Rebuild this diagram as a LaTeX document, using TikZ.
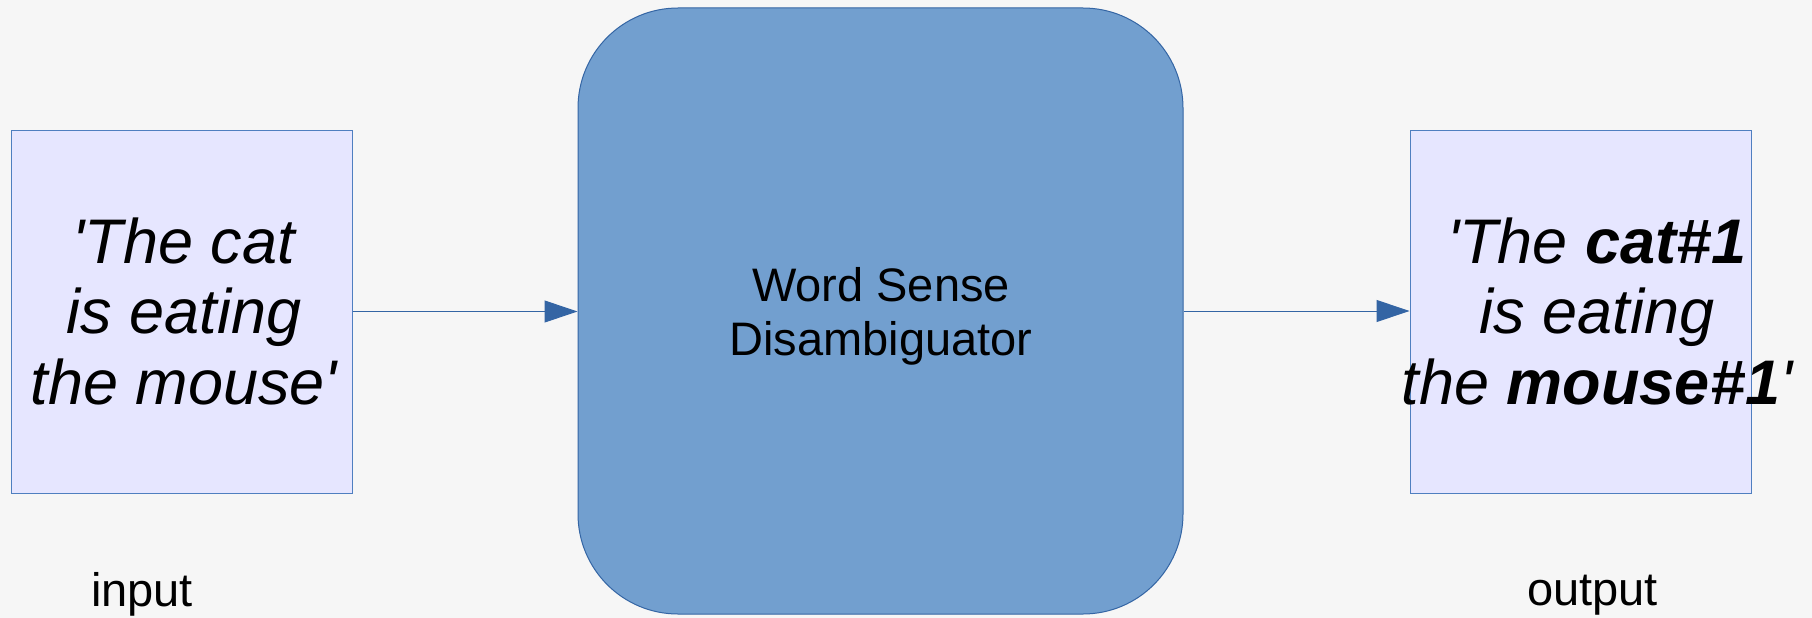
\documentclass[tikz,border=0pt]{standalone}
\usepackage{fontspec}
\setmainfont{Liberation Sans}
\usetikzlibrary{arrows.meta}

\definecolor{wsdfill}{HTML}{729FCF}
\definecolor{wsdline}{HTML}{3465A4}
\definecolor{sentfill}{HTML}{E6E6FF}
\definecolor{sentline}{HTML}{4F7FC0}
\definecolor{bgleft}{HTML}{E8E8E8}
\definecolor{bgmid}{HTML}{F6F6F6}
\definecolor{bgright}{HTML}{EEEEEE}

% soft horizontal wash for the page
\pgfdeclarehorizontalshading{pagewash}{100bp}{%
  color(0bp)=(bgleft); color(20bp)=(bgmid); color(75bp)=(bgmid);
  color(100bp)=(bgright)}

\tikzset{
  sentbox/.style={draw=sentline, fill=sentfill, line width=1pt, inner sep=0pt,
                  minimum width=341pt, minimum height=363pt},
  wsdbox/.style={draw=wsdline, fill=wsdfill, line width=1pt, inner sep=0pt,
                 rounded corners=100pt, minimum width=605pt, minimum height=606pt},
  sentence/.style={align=center, inner sep=0pt, text=black,
                   font=\fontsize{63}{70.5}\selectfont\itshape},
  wsdtext/.style={align=center, inner sep=0pt, text=black,
                  font=\fontsize{47}{54}\selectfont},
  caption/.style={anchor=base, inner sep=0pt, text=black,
                  font=\fontsize{47}{56}\selectfont},
  conn/.style={draw=wsdline, line width=1pt,
               -{Triangle[length=33pt, width=22pt, fill=wsdline]}}
}

\begin{document}
\begin{tikzpicture}[x=1pt, y=-1pt]
  % page background
  \shade[shading=pagewash] (0,0) rectangle (1812,618);
  \useasboundingbox (0,0) rectangle (1812,618);

  % boxes
  \node[sentbox] (inbox) at (181.5,311.5) {};
  \node[wsdbox] (wsd) at (880.5,311) {};
  \node[sentbox] (outbox) at (1580.5,311.5) {};

  % texts
  \node[sentence] (intext) at (184,311)
    {\textquotesingle The cat\\is eating\\the mouse\textquotesingle};
  \node[wsdtext] (wsdlabel) at (881,316) {Word Sense\\Disambiguator};
  \node[sentence] (outtext) at (1597,311)
    {\textquotesingle The \textbf{cat\#1}\\is eating\\the \textbf{mouse\#1}\textquotesingle};

  \node[caption] (incap) at (142,606.7) {input};
  \node[caption] (outcap) at (1592.5,605) {output};

  % connectors
  \draw[conn] (inbox.east) -- (inbox.east -| wsd.west);
  \draw[conn] (wsd.east) -- (wsd.east -| outbox.west);
\end{tikzpicture}
\end{document}
